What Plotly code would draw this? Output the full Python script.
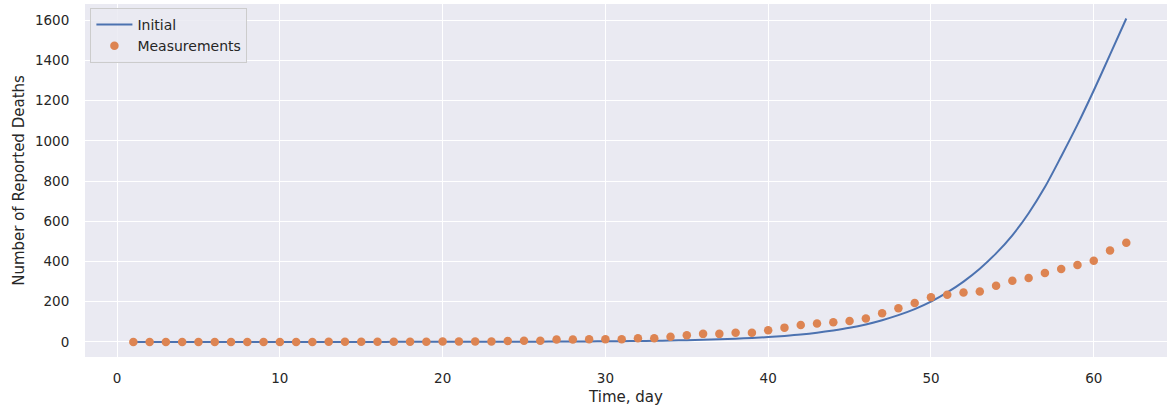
import plotly.graph_objects as go

days = list(range(1, 63))

measurements = [
    0, 0, 0, 0, 0, 0, 0, 0, 0, 0,
    0, 0, 1, 1, 1, 1, 1, 1, 1, 2,
    2, 2, 2, 5, 6, 6, 12, 12, 13, 13,
    13, 18, 18, 26, 33, 40, 40, 46, 46, 58,
    71, 84, 91, 98, 104, 116, 142, 167, 193, 222,
    234, 246, 251, 279, 304, 318, 343, 362, 382, 404,
    454, 493,
]

initial = [
    0.01, 0.01, 0.01, 0.02, 0.02, 0.02, 0.03, 0.03, 0.04, 0.05,
    0.06, 0.07, 0.09, 0.11, 0.14, 0.17, 0.21, 0.26, 0.3, 0.4,
    0.5, 0.6, 0.7, 0.9, 1.1, 1.3, 1.6, 2.0, 2.5, 3.0,
    3.7, 4.6, 5.6, 6.9, 8.5, 10.5, 12.9, 15.9, 19.5, 24,
    30, 37, 46, 57, 70, 87, 108, 133, 163, 200,
    246, 300, 364, 440, 530, 640, 770, 922, 1080, 1250,
    1428, 1608,
]

x_ticks = [0, 10, 20, 30, 40, 50, 60]
y_ticks = [0, 200, 400, 600, 800, 1000, 1200, 1400, 1600]

font_family = "DejaVu Sans"
text_color = "#262626"

fig = go.Figure()
fig.add_trace(go.Scatter(
    x=days, y=initial, mode="lines", name="Initial",
    line=dict(color="#4C72B0", width=2, shape="spline", smoothing=0.8),
))
fig.add_trace(go.Scatter(
    x=days, y=measurements, mode="markers", name="Measurements",
    marker=dict(color="#DD8452", size=8.5, line=dict(width=0)),
))

fig.update_layout(
    width=1167, height=410,
    margin=dict(l=85, r=0, t=4, b=53, autoexpand=False),
    paper_bgcolor="white",
    plot_bgcolor="#EAEAF2",
    font=dict(family=font_family, color=text_color, size=13.5),
    showlegend=True,
    legend=dict(
        x=0.005, y=0.989, xanchor="left", yanchor="top",
        bgcolor="rgba(234,234,242,0.85)",
        bordercolor="#CCCCCC", borderwidth=1,
        font=dict(size=14, family=font_family, color=text_color),
        itemwidth=36,
    ),
    xaxis=dict(
        range=[-1.97, 64.5],
        tickvals=x_ticks,
        showgrid=True, gridcolor="white", gridwidth=1.3,
        zeroline=False, showline=False,
        ticks="outside", ticklen=9, tickcolor="rgba(0,0,0,0)",
        tickfont=dict(size=13.5),
        title=dict(text="Time, day", font=dict(size=15), standoff=6),
        automargin=False,
    ),
    yaxis=dict(
        range=[-75, 1680],
        tickvals=y_ticks,
        showgrid=True, gridcolor="white", gridwidth=1.3,
        zeroline=False, showline=False,
        ticks="outside", ticklen=12, tickcolor="rgba(0,0,0,0)",
        tickfont=dict(size=13.5),
        title=dict(text="Number of Reported Deaths", font=dict(size=15), standoff=6),
        automargin=False,
    ),
)

fig.write_html(
    "out.html",
    config={"displayModeBar": False},
    post_script="document.body.style.margin='0';document.body.style.overflow='hidden';",
)
